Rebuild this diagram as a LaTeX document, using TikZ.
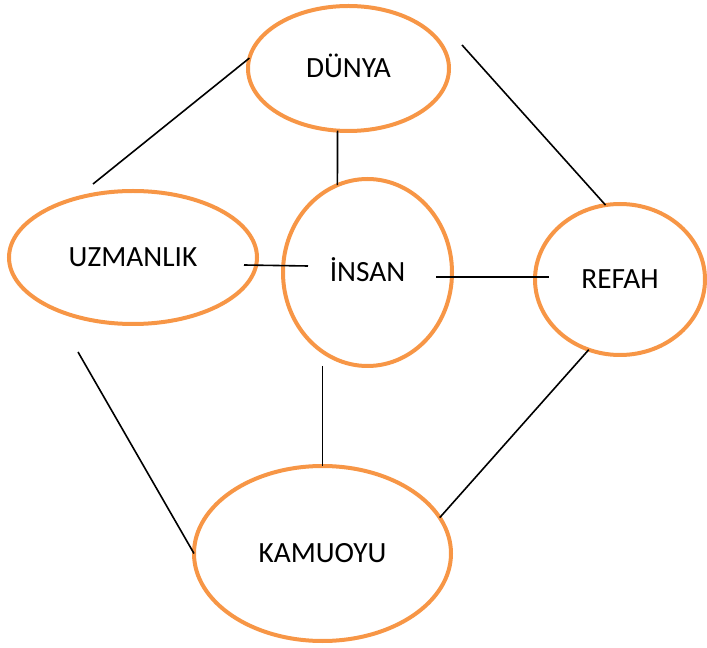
\documentclass[tikz,border=0pt]{standalone}
\usepackage{fontspec}
\setmainfont{Carlito}
\usetikzlibrary{shapes.geometric}
\definecolor{accentorange}{HTML}{F79646}

\begin{document}
\begin{tikzpicture}[x=0.75pt,y=-0.75pt] % work on the pixel grid, y going down
\tikzset{topic/.style={draw=accentorange, line width=3pt, ellipse, inner sep=0pt, outer sep=0pt, font=\fontsize{22}{26}\selectfont, text height=14.2pt, text depth=0pt}} % orange rings
\tikzset{link/.style={line width=1.2pt}} % plain black connectors
\useasboundingbox (0,0) rectangle (707,648);
\node[topic, minimum width=150.75pt, minimum height=93.75pt] (dunya) at (348.5,68.5) {DÜNYA};
\node[topic, minimum width=186pt, minimum height=99.75pt] (uzman) at (133,257.5) {UZMANLIK};
\node[topic, minimum width=126.75pt, minimum height=140.25pt] (insan) at (367.5,272.5) {İNSAN};
\node[topic, minimum width=127.5pt, minimum height=113.25pt] (refah) at (620,279.5) {REFAH};
\node[topic, minimum width=192.75pt, minimum height=131.25pt] (kamu) at (322.5,553.5) {KAMUOYU};
\draw[link] (dunya.174) -- ([shift={(-40,-7)}]uzman.north);
\draw[link] ([shift={(13,-23.5)}]dunya.east) -- (refah.101);
\draw[link] (dunya.260) -- (insan.109);
\draw[link] ([shift={(-13,7.5)}]uzman.east) -- ([shift={(25,-6.5)}]insan.west);
\draw[link] ([shift={(-16,4.5)}]insan.east) -- ([shift={(14,-2.5)}]refah.west);
\draw[link] (kamu.north |- insan.south) -- (kamu.north);
\draw[link] ([shift={(-55,28)}]uzman.south) -- (kamu.west);
\draw[link] (refah.246) -- (kamu.17);
\end{tikzpicture}
\end{document}
